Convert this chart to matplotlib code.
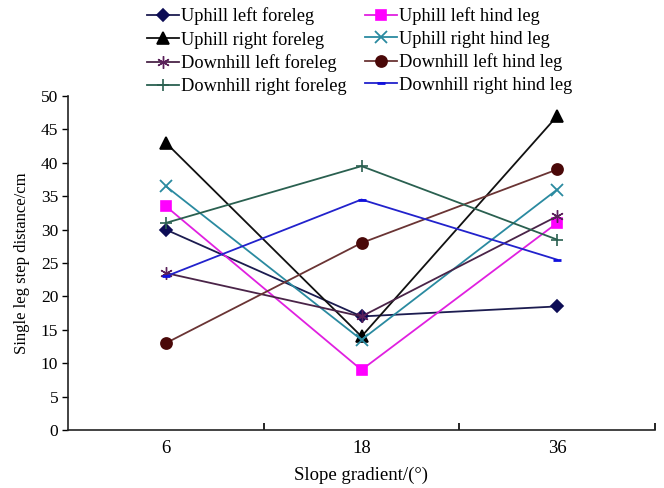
import matplotlib
matplotlib.use("Agg")
import matplotlib.pyplot as plt
from matplotlib.ticker import FixedLocator

plt.rcParams["font.family"] = ["Liberation Serif", "DejaVu Serif"]

slopes = ["6", "18", "36"]

uphill_left_fore = [30, 17, 18.5]
uphill_left_hind = [33.5, 9, 31]
uphill_right_fore = [43, 14, 47]
uphill_right_hind = [36.5, 13.5, 36]
downhill_left_fore = [23.5, 17, 32]
downhill_left_hind = [13, 28, 39]
downhill_right_fore = [31, 39.5, 28.5]
downhill_right_hind = [23, 34.5, 25.5]

# name, values, line colour, marker colour, marker, size, edge width
series = [
    ("Uphill left foreleg", uphill_left_fore, "#1c1c50", "#0c0c55", "D", 6.5, 1.2),
    ("Uphill left hind leg", uphill_left_hind, "#e020e0", "#ff00ff", "s", 7, 1.2),
    ("Uphill right foreleg", uphill_right_fore, "#111111", "#000000", "^", 8, 1.2),
    ("Uphill right hind leg", uphill_right_hind, "#2a8aa0", "#2a8aa0", "x", 8, 1.3),
    ("Downhill left foreleg", downhill_left_fore, "#4a2448", "#5a205a", (6, 2, 0), 9, 1.0),
    ("Downhill left hind leg", downhill_left_hind, "#6a3434", "#4a0808", "o", 8, 1.2),
    ("Downhill right foreleg", downhill_right_fore, "#2a6050", "#2a6050", "+", 9, 1.2),
    ("Downhill right hind leg", downhill_right_hind, "#2222cc", "#1010dd", "_", 6, 2.0),
]

fig = plt.figure(figsize=(6.64, 4.88), dpi=100)
ax = fig.add_axes([68 / 664, 58 / 488, 587 / 664, 334 / 488])

x = list(range(len(slopes)))
lines = []
for name, vals, lc, mc, mk, ms, mew in series:
    ln, = ax.plot(x, vals, color=lc, lw=1.3, marker=mk, markersize=ms,
                  markerfacecolor=mc, markeredgecolor=mc, markeredgewidth=mew,
                  label=name)
    lines.append(ln)

ax.set_xlim(-0.5, len(slopes) - 0.5)
ax.set_ylim(0, 50)
ax.set_yticks(range(0, 51, 5))
ax.tick_params(axis="y", direction="out", length=4, width=1, labelsize=12.5, pad=3)

# category boundaries carry the tick marks, labels sit at the centres
ax.xaxis.set_major_locator(FixedLocator([0.5, 1.5, 2.5]))
ax.xaxis.set_minor_locator(FixedLocator(x))
ax.set_xticklabels([], minor=False)
ax.set_xticklabels(slopes, minor=True)
ax.tick_params(axis="x", which="major", direction="in", length=5, width=1.2)
ax.tick_params(axis="x", which="minor", length=0, labelsize=13.5, pad=7)

for side in ("top", "right"):
    ax.spines[side].set_visible(False)
for side in ("left", "bottom"):
    ax.spines[side].set_linewidth(1.2)
    ax.spines[side].set_color("#222222")

ax.set_xlabel("Slope gradient/(°)", fontsize=13.5, labelpad=7)
ax.set_ylabel("Single leg step distance/cm", fontsize=12, labelpad=8)

# legend reads across rows: foreleg entries left, hind leg entries right
order = [0, 2, 4, 6, 1, 3, 5, 7]
fig.legend([lines[i] for i in order], [series[i][0] for i in order],
           loc="upper left", bbox_to_anchor=(140 / 664, 1.0), ncol=2,
           frameon=False, fontsize=13.2, handlelength=1.75, handletextpad=0.1,
           columnspacing=1.0, labelspacing=0.3, borderaxespad=0.0)

fig.savefig("out.png", dpi=100, facecolor="white")
